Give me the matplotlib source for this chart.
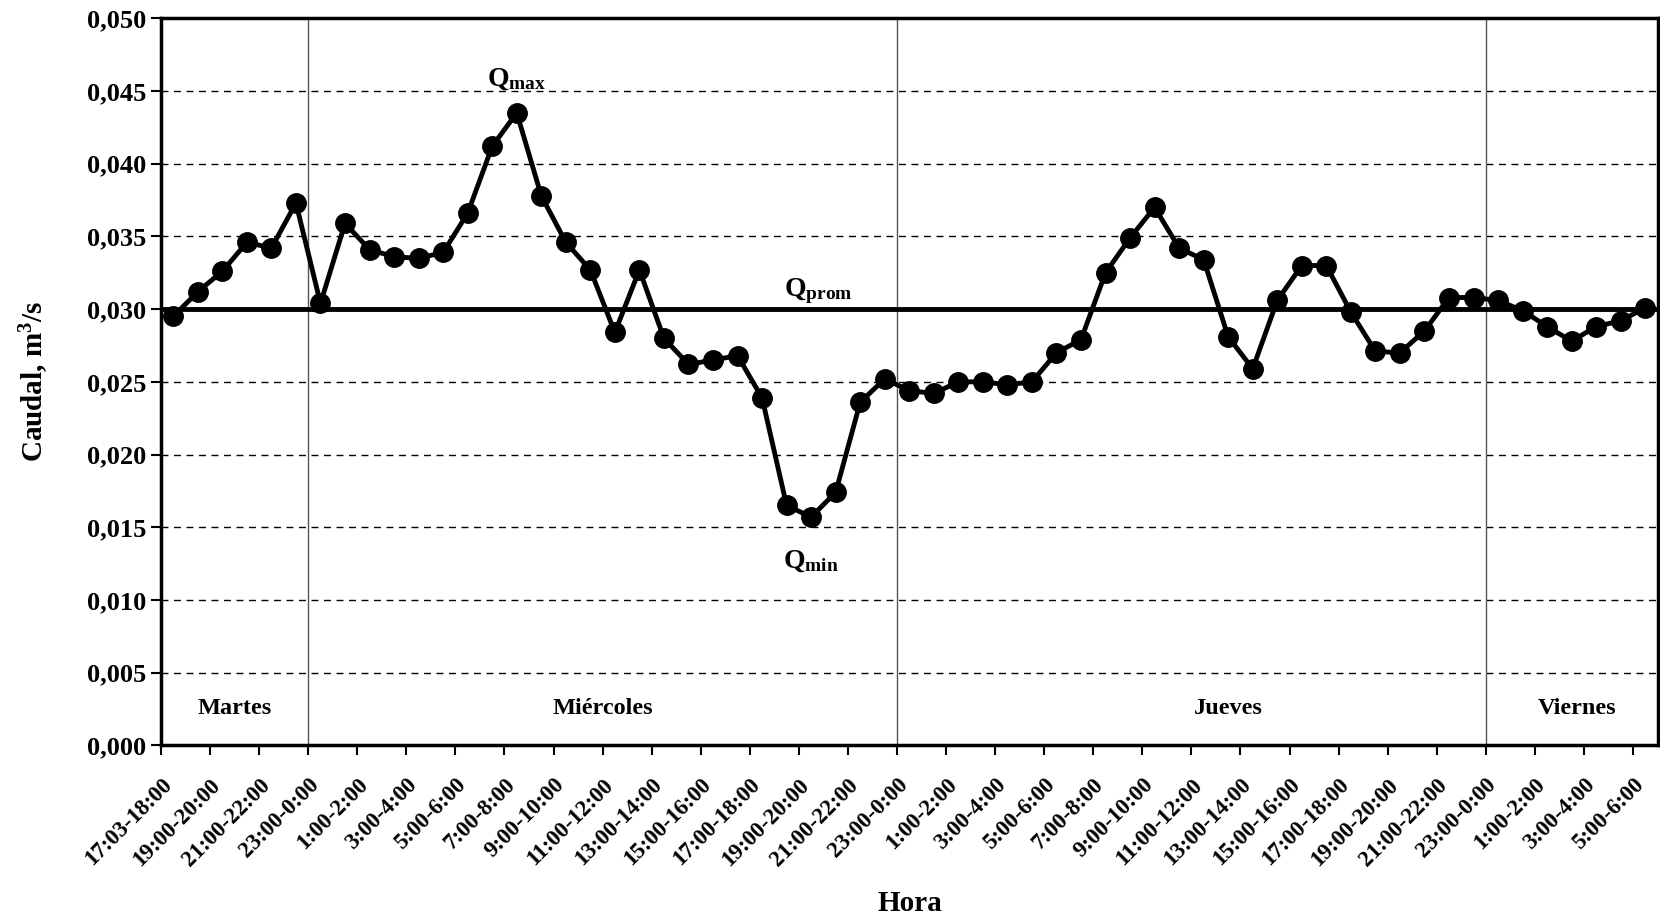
import matplotlib.pyplot as plt

plt.rcParams['font.family'] = ['Liberation Serif', 'DejaVu Serif']
plt.rcParams['font.weight'] = 'bold'
plt.rcParams['mathtext.fontset'] = 'custom'
plt.rcParams['mathtext.rm'] = 'Liberation Serif:bold'
plt.rcParams['mathtext.bf'] = 'Liberation Serif:bold'
plt.rcParams['mathtext.it'] = 'Liberation Serif:bold'

# hourly intervals, Tuesday 17:03 to Friday 7:00
horas = ['17:03-18:00', '18:00-19:00', '19:00-20:00', '20:00-21:00',
         '21:00-22:00', '22:00-23:00']
for dia in range(2):
    horas += ['23:00-0:00'] + ['%d:00-%d:00' % (h, h + 1) for h in range(0, 23)]
horas += ['23:00-0:00'] + ['%d:00-%d:00' % (h, h + 1) for h in range(0, 6)]

caudal = [0.0295, 0.0312, 0.0326, 0.0346, 0.0342, 0.0373, 0.0304, 0.0359,
          0.0341, 0.0336, 0.0335, 0.0339, 0.0366, 0.0412, 0.0435, 0.0378,
          0.0346, 0.0327, 0.0284, 0.0327, 0.0280, 0.0262, 0.0265, 0.0268,
          0.0239, 0.0165, 0.0157, 0.0174, 0.0236, 0.0252, 0.0244, 0.0242,
          0.0250, 0.0250, 0.0248, 0.0250, 0.0270, 0.0279, 0.0325, 0.0349,
          0.0370, 0.0342, 0.0334, 0.0281, 0.0259, 0.0306, 0.0330, 0.0330,
          0.0298, 0.0271, 0.0270, 0.0285, 0.0308, 0.0308, 0.0306, 0.0299,
          0.0288, 0.0278, 0.0288, 0.0292, 0.0301]
q_prom = 0.030

dias = ['Martes', 'Miércoles', 'Jueves', 'Viernes']
dias_x = [2.5, 17.5, 43.0, 57.2]
cortes = [6, 30, 54]

fig = plt.figure(figsize=(16.6, 9.19), dpi=100)
ax = fig.add_axes([0.097, 0.189, 0.9015, 0.791])

x = list(range(len(caudal)))
ax.set_xlim(-0.5, len(caudal) - 0.5)
ax.set_ylim(0, 0.050)
yt = [i * 0.005 for i in range(11)]
ax.set_yticks(yt)
ax.set_yticklabels([('%.3f' % v).replace('.', ',') for v in yt])
ax.yaxis.grid(True, linestyle=(0, (5, 4)), color='black', linewidth=1)
ax.set_axisbelow(True)

for c in cortes:
    ax.axvline(c - 0.5, color='#555555', linewidth=1)

ax.axhline(q_prom, color='black', linewidth=3.5)
ax.plot(x, caudal, color='black', linewidth=3.5, marker='o', markersize=14,
        zorder=5)

ticks = list(range(0, len(caudal), 2))
ax.set_xticks([t - 0.5 for t in ticks])
ax.set_xticklabels([horas[t] for t in ticks], rotation=45, ha='right',
                   rotation_mode='anchor', fontsize=16.5)
ax.tick_params(axis='y', labelsize=19, length=7, width=1.5)
ax.tick_params(axis='x', length=7, width=1.5, pad=14)

for sp in ax.spines.values():
    sp.set_linewidth(2.5)

for d, dx in zip(dias, dias_x):
    ax.text(dx, 0.0025, d, ha='center', va='center', fontsize=17.5)

imax = caudal.index(max(caudal))
imin = caudal.index(min(caudal))
ax.text(imax, 0.0454, r'Q$_{\mathrm{max}}$', ha='center', fontsize=20)
ax.text(imin, 0.0122, r'Q$_{\mathrm{min}}$', ha='center', fontsize=20)
ax.text(26.3, 0.0309, r'Q$_{\mathrm{prom}}$', ha='center', fontsize=20)

fig.text(0.0204, 0.585, 'Caudal, m$^{\\mathrm{3}}$/s', rotation=90,
         ha='center', va='center', fontsize=21, fontweight='bold')
fig.text(0.548, 0.017, 'Hora', ha='center', va='center', fontsize=21,
         fontweight='bold')

fig.savefig('out.png', dpi=100)
